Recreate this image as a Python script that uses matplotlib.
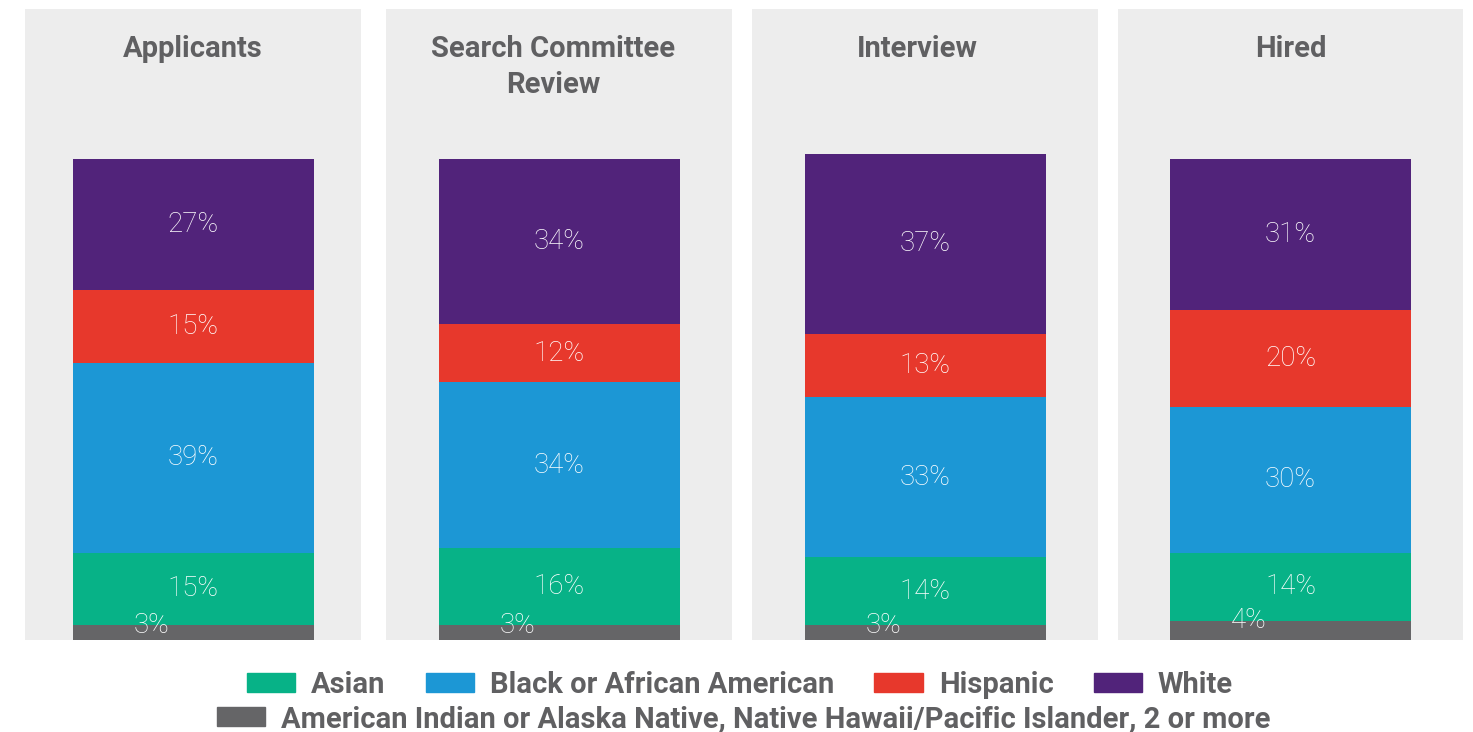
import matplotlib.pyplot as plt
from matplotlib.patches import Rectangle
import numpy as np

plt.rcParams['font.family'] = ['Roboto', 'DejaVu Sans']

stages = ['Applicants', 'Search Committee\nReview', 'Interview', 'Hired']
groups = ['American Indian or Alaska Native, Native Hawaii/Pacific Islander, 2 or more',
          'Asian', 'Black or African American', 'Hispanic', 'White']
other = [3, 3, 3, 4]
asian = [15, 16, 14, 14]
black = [39, 34, 33, 30]
hispanic = [15, 12, 13, 20]
white = [27, 34, 37, 31]
colors = ['#656567', '#07B287', '#1C97D5', '#E7382C', '#51237A']

values = np.array([other, asian, black, hispanic, white])
text_gray = '#606062'
panel_bg = '#EDEDED'

W, H = 1473, 732
fig = plt.figure(figsize=(W / 100, H / 100), dpi=100)

# panel edges in pixels (left, right), top/bottom shared
panels = [(25, 361), (386, 732), (752, 1098), (1118, 1463)]
title_shift = [0, -6, -8, 0]
top_px, bot_px = 9, 640
bar_px = 241
px_per_pct = 4.86

for i, (l, r) in enumerate(panels):
    ax = fig.add_axes([l / W, 1 - bot_px / H, (r - l) / W, (bot_px - top_px) / H])
    ax.set_facecolor(panel_bg)
    ax.set_xlim(-0.5, 0.5)
    ax.set_ylim(0, (bot_px - top_px) / px_per_pct)
    width = bar_px / (r - l)
    bottom = 0
    for j, col in enumerate(colors):
        v = values[j, i]
        ax.bar(0, v, width=width, bottom=bottom, color=col, linewidth=0)
        if j == 0:
            # small segment: label sits on its top edge, shifted left
            ax.annotate(f'{v}%', (0, bottom + v), xytext=(-30, 0),
                        textcoords='offset points', ha='center', va='center',
                        color='white', fontsize=20, fontweight='light')
        else:
            ax.text(0, bottom + v / 2, f'{v}%', ha='center', va='center',
                    color='white', fontsize=20, fontweight='light')
        bottom += v
    ax.text(0.5 + title_shift[i] / (r - l), 1 - 26 / (bot_px - top_px), stages[i],
            transform=ax.transAxes, ha='center', va='top', fontsize=21,
            fontweight='bold', color=text_gray, linespacing=1.35)
    ax.set_xticks([])
    ax.set_yticks([])
    for s in ax.spines.values():
        s.set_visible(False)

handles = [Rectangle((0, 0), 1, 1, color=c) for c in colors]
leg_kw = dict(loc='center', frameon=False, handlelength=1.65, handleheight=0.65,
              handletextpad=0.55, columnspacing=1.38, borderpad=0, borderaxespad=0,
              prop={'family': ['Roboto', 'DejaVu Sans'], 'weight': 'bold', 'size': 21})
leg1 = fig.legend(handles[1:], groups[1:], ncol=4,
                  bbox_to_anchor=(740 / W, 1 - 685 / H), **leg_kw)
leg2 = fig.legend(handles[:1], groups[:1], ncol=1,
                  bbox_to_anchor=(744 / W, 1 - 719 / H), **leg_kw)
for leg in (leg1, leg2):
    for t in leg.get_texts():
        t.set_color(text_gray)

fig.savefig('out.png', dpi=100)
